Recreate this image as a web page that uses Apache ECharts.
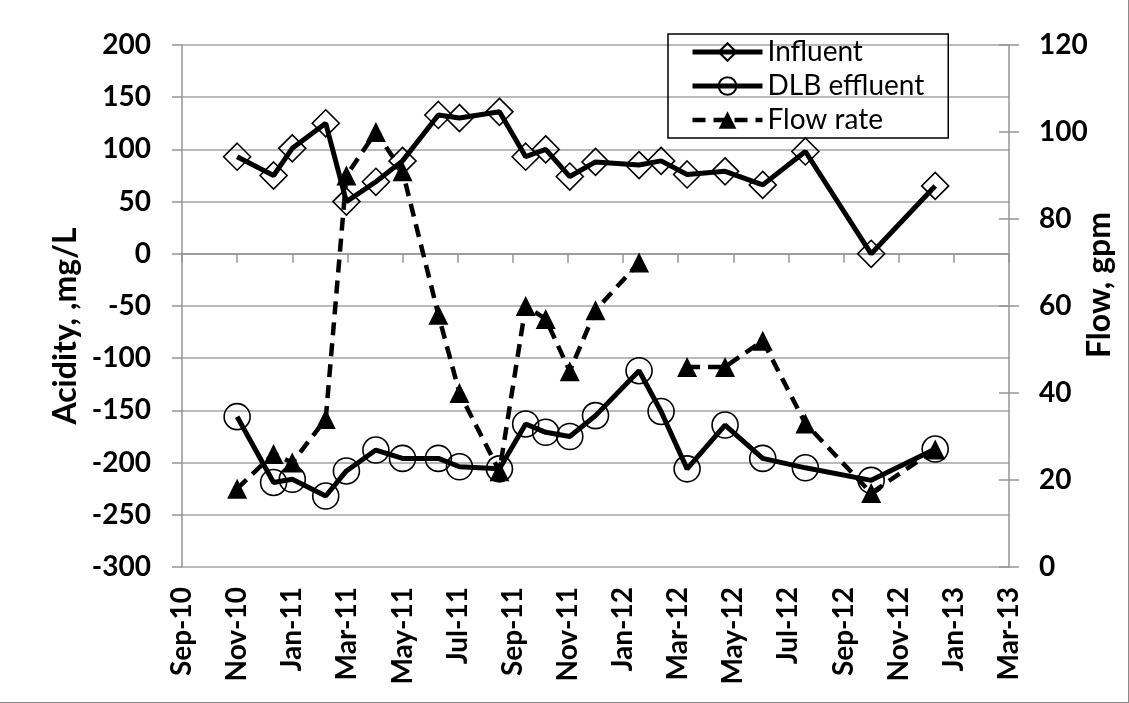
<!DOCTYPE html>
<html>
<head>
<meta charset="utf-8">
<script src="https://cdn.jsdelivr.net/npm/echarts@6/dist/echarts.min.js"></script>
<style>
  html, body { margin: 0; padding: 0; background: #fff; }
  #chart { width: 1129px; height: 703px; box-sizing: border-box; border-right: 1px solid #8a8a8a; border-bottom: 1px solid #8a8a8a; }
</style>
</head>
<body>
<div id="chart"></div>
<script>
// ---- data ----
const dates = [
  '2010-11-01','2010-12-11','2011-01-01','2011-02-07','2011-02-28','2011-04-02',
  '2011-05-01','2011-06-10','2011-07-03','2011-08-17','2011-09-15','2011-10-07',
  '2011-11-03','2011-12-01','2012-01-19','2012-02-12','2012-03-11','2012-04-22',
  '2012-06-03','2012-07-20','2012-10-01','2012-12-11'
];
const influent = [93, 75, 101, 125, 50, 69, 89, 133, 130, 136, 93, 100,
                  74, 88, 85, 89, 76, 79, 66, 98, 0, 65];
const effluent = [-156, -219, -216, -232, -208, -188, -196, -196, -204, -206, -163, -171,
                  -175, -155, -112, -151, -206, -164, -196, -205, -217, -187];
const flow = [18, 26, 24, 34, 90, 100, 91, 58, 40, 22, 60, 57,
              45, 59, 70, null, 46, 46, 52, 33, 17, 27];
const seriesNames = ['Influent', 'DLB effluent', 'Flow rate'];
const monthNames = ['Jan','Feb','Mar','Apr','May','Jun','Jul','Aug','Sep','Oct','Nov','Dec'];
const xStart = '2010-09-01', xEnd = '2013-03-01';
const leftTitle = 'Acidity, ,mg/L';
const rightTitle = 'Flow, gpm';

// month position on a continuous month scale (months since year 0)
function monthPos(s) {
  const p = s.split('-').map(Number);
  const dim = new Date(p[0], p[1], 0).getDate();
  return p[0] * 12 + (p[1] - 1) + (p[2] - 1) / dim;
}
function monthLabel(v) {
  const r = Math.round(v);
  const y = Math.floor(r / 12), m = r - y * 12;
  return monthNames[m] + '-' + String(y % 100).padStart(2, '0');
}
const pair = arr => dates.map((d, i) => [monthPos(d), arr[i]]);

const FONT = 'Lato';
const gray = '#959595';
const solidW = 5, dashW = 4.5, dash = [13, 8];
const chart = echarts.init(document.getElementById('chart'), null, { renderer: 'canvas' });
chart.setOption({
  animation: false,
  textStyle: { fontFamily: FONT },
  grid: { left: 182, right: 119, top: 45, bottom: 135, outerBoundsMode: 'none' },
  graphic: [
    {
      type: 'text', x: 66, y: 326, rotation: Math.PI / 2,
      style: { text: leftTitle, align: 'center', verticalAlign: 'middle',
               font: 'bold 32px ' + FONT, fill: '#000' }
    },
    {
      type: 'text', x: 1100, y: 285, rotation: Math.PI / 2,
      style: { text: rightTitle, align: 'center', verticalAlign: 'middle',
               font: 'bold 32px ' + FONT, fill: '#000' }
    }
  ],
  legend: {
    orient: 'vertical',
    left: 668, top: 34,
    padding: [3, 24, 3, 22],
    borderColor: '#000', borderWidth: 1.5,
    itemWidth: 70, itemHeight: 22, itemGap: 4,
    textStyle: { fontFamily: FONT, fontSize: 28, color: '#000', lineHeight: 30 },
    data: [
      { name: seriesNames[0], lineStyle: { width: solidW } },
      { name: seriesNames[1], lineStyle: { width: solidW } },
      { name: seriesNames[2], lineStyle: { width: dashW, type: dash } }
    ]
  },
  xAxis: {
    type: 'value',
    min: monthPos(xStart), max: monthPos(xEnd), interval: 2,
    axisLine: { show: true, lineStyle: { color: gray, width: 1.5 } },
    axisTick: { show: true, length: 9, lineStyle: { color: gray, width: 1.5 } },
    splitLine: { show: false },
    axisLabel: {
      rotate: 90, margin: 20, fontFamily: FONT, fontWeight: 'bold', fontSize: 28, color: '#000',
      formatter: monthLabel
    }
  },
  yAxis: [
    {
      type: 'value', position: 'left', min: -300, max: 200, interval: 50,
      axisLine: { show: true, lineStyle: { color: gray, width: 1.5 } },
      axisTick: { show: true, length: 10, lineStyle: { color: gray, width: 1.5 } },
      splitLine: { show: true, lineStyle: { color: '#a3a3a3', width: 1.5 } },
      axisLabel: { margin: 31, fontFamily: FONT, fontWeight: 'bold', fontSize: 28, color: '#000' }
    },
    {
      type: 'value', position: 'right', min: 0, max: 120, interval: 20,
      axisLine: { show: true, lineStyle: { color: gray, width: 1.5 } },
      axisTick: { show: true, length: 10, lineStyle: { color: gray, width: 1.5 } },
      splitLine: { show: false },
      axisLabel: { margin: 30, fontFamily: FONT, fontWeight: 'bold', fontSize: 28, color: '#000' }
    },
    {
      type: 'value', position: 'right', min: 0, max: 120, interval: 20,
      axisLine: { show: false },
      axisTick: { show: true, inside: true, length: 10, lineStyle: { color: gray, width: 1.5 } },
      splitLine: { show: false },
      axisLabel: { show: false }
    }
  ],
  series: [
    {
      name: seriesNames[0], type: 'line', yAxisIndex: 0, data: pair(influent),
      symbol: 'diamond', symbolSize: 27,
      lineStyle: { color: '#000', width: solidW },
      itemStyle: { color: 'rgba(255,255,255,0)', borderColor: '#000', borderWidth: 1.6 },
      z: 2
    },
    {
      name: seriesNames[1], type: 'line', yAxisIndex: 0, data: pair(effluent),
      symbol: 'circle', symbolSize: 26,
      lineStyle: { color: '#000', width: solidW },
      itemStyle: { color: 'rgba(255,255,255,0)', borderColor: '#000', borderWidth: 1.6 },
      z: 3
    },
    {
      name: seriesNames[2], type: 'line', yAxisIndex: 1, data: pair(flow),
      symbol: 'triangle', symbolSize: 20, connectNulls: false,
      lineStyle: { color: '#000', width: dashW, type: dash },
      itemStyle: { color: '#000', borderColor: '#000', borderWidth: 0 },
      z: 4
    }
  ]
});
</script>
</body>
</html>
